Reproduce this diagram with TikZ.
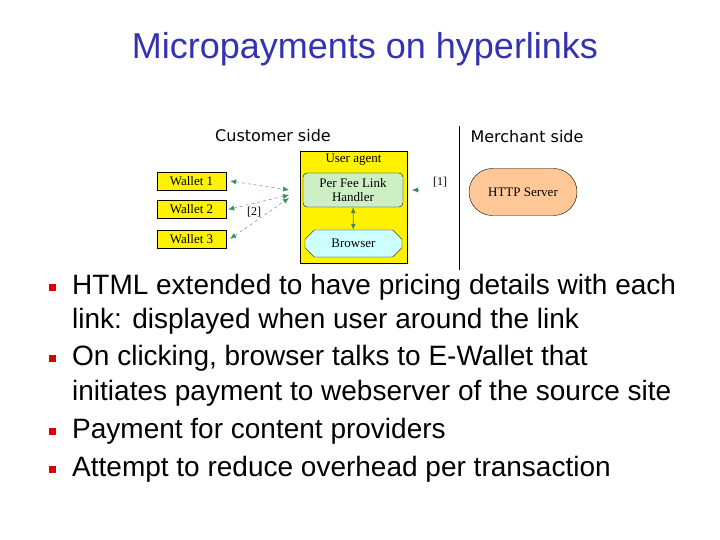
\documentclass[tikz,border=0pt]{standalone}
\usepackage{fontspec}
\setmainfont{Liberation Serif}
\setsansfont{Liberation Sans}
\newfontfamily\dejavu{DejaVu Sans}
\usepackage{tikz}
\usetikzlibrary{arrows.meta,shapes.misc,positioning}
\definecolor{titleblue}{RGB}{51,51,178}
\definecolor{arrowgreen}{RGB}{60,140,100}
\definecolor{handlergreen}{RGB}{204,240,196}
\definecolor{browsercyan}{RGB}{204,255,255}
\definecolor{serverpeach}{RGB}{255,200,150}
\definecolor{bulletred}{RGB}{220,0,0}
\tikzset{%
  >={Latex[width=5pt,length=6pt]},
  % Specifications for style of nodes:
          base/.style = {rectangle, draw=black, text centered, inner sep=0pt,
                         font=\fontsize{13}{14}\selectfont},
        wallet/.style = {base, fill=yellow, minimum width=69pt, minimum height=18pt},
         agent/.style = {base, fill=yellow, minimum width=107pt, minimum height=112pt},
       handler/.style = {base, rounded corners=4pt, fill=handlergreen,
                         minimum width=100pt, minimum height=34pt, align=center},
       browser/.style = {base, chamfered rectangle, chamfered rectangle xsep=5pt,
                         chamfered rectangle ysep=5pt, fill=browsercyan,
                         minimum width=97pt, minimum height=27pt},
        server/.style = {base, rounded rectangle, fill=serverpeach,
                         minimum width=108pt, minimum height=47pt},
          side/.style = {font=\dejavu\fontsize{16}{18}\selectfont},
           tag/.style = {font=\fontsize{12}{13}\selectfont},
        bullet/.style = {rectangle, fill=bulletred, minimum size=7pt, inner sep=0pt},
      lineitem/.style = {anchor=base west, inner sep=0pt,
                         font=\sffamily\fontsize{28}{34}\selectfont},
          link/.style = {<->, dashed, arrowgreen, thin}
}

\begin{document}
\begin{tikzpicture}[x=1pt, y=-1pt]
  \useasboundingbox (0,0) rectangle (720,540);
  % Title
  \node (title) at (365,49) [font=\sffamily\fontsize{36}{40}\selectfont, text=titleblue]
        {Micropayments on hyperlinks};

  % Specification of nodes (position, etc.)
  \node (cust)    at (273,136) [side] {Customer side};
  \node (merch)   at (527,137) [side] {Merchant side};

  \node (agent)   at (353.5,207) [agent] {};
  \node (agentlbl) at (353.5,160) [font=\fontsize{13}{14}\selectfont] {User agent};
  \node (handler) at (353,190) [handler] {Per Fee Link\\Handler};
  \node (browser) at (353.5,243.5) [browser] {Browser};

  \node (wallet1) at (191.5,181) [wallet] {Wallet 1};
  \node (wallet2) [wallet, below=10pt of wallet1] {Wallet 2};
  \node (wallet3) [wallet, below=11pt of wallet2] {Wallet 3};

  \node (server)  at (523,192) [server] {HTTP Server};

  \node (tag2) at (254,212) [tag] {[2]};
  \node (tag1) at (440,182) [tag] {[1]};

  \coordinate (hub1) at (289,190);
  \coordinate (hub2) at (289,195);
  \coordinate (hub3) at (289,198);
  \coordinate (tipA) at (412,190);
  \coordinate (tipB) at (419,190);
  \coordinate (divTop) at (459,126);
  \coordinate (divBot) at (459,270);

  \draw[link] ([xshift=4pt]wallet1.east) -- (hub1);
  \draw[link] ([xshift=2pt]wallet2.east) -- (hub2);
  \draw[link] ([xshift=4pt]wallet3.east) -- (hub3);
  \draw[<->, arrowgreen, thick] (handler) -- (browser);
  \draw[->, arrowgreen, thin] (tipB) -- (tipA);
  \draw[thin] (divTop) -- (divBot);

  % Bullets
  \node (blt1) at (52.5,287) [bullet] {};
  \node (blt2) at (52.5,358) [bullet] {};
  \node (blt3) at (52.5,431) [bullet] {};
  \node (blt4) at (52.5,469) [bullet] {};
  \node (l1a) at (72,294) [lineitem] {HTML extended to have pricing details with each};
  \node (l1b) at (72,328) [lineitem] {link: displayed when user around the link};
  \node (l2a) at (72,365) [lineitem] {On clicking, browser talks to E-Wallet that};
  \node (l2b) at (72,400) [lineitem] {initiates payment to webserver of the source site};
  \node (l3)  at (72,438) [lineitem] {Payment for content providers};
  \node (l4)  at (72,476) [lineitem] {Attempt to reduce overhead per transaction};
\end{tikzpicture}
\end{document}
